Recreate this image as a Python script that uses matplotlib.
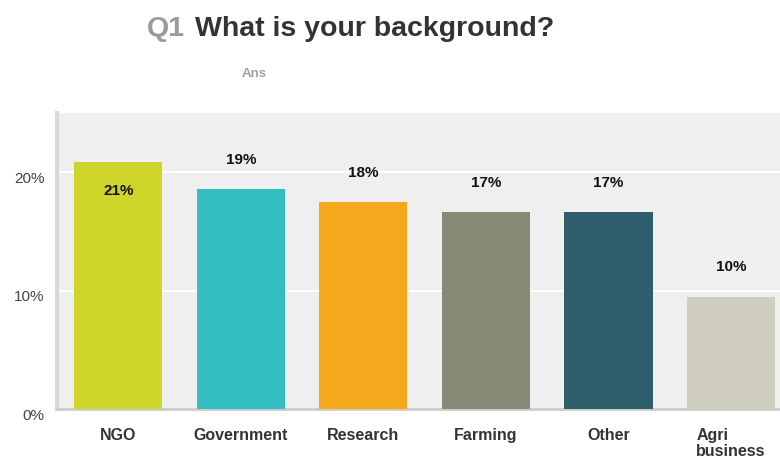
import matplotlib
matplotlib.use('Agg')
import matplotlib.pyplot as plt
import matplotlib.transforms as mtransforms

plt.rcParams['font.family'] = ['Liberation Sans', 'DejaVu Sans']

# ========== data ==========
categories = ['NGO', 'Government', 'Research', 'Farming', 'Other', 'Agri\nbusiness']
values = [20.9, 18.6, 17.5, 16.6, 16.6, 9.5]
value_labels = ['21%', '19%', '18%', '17%', '17%', '10%']
colors = ['#cfd42a', '#33bfc1', '#f5a81c', '#888a78', '#2e5e6b', '#d0cfbf']
y_ticks = [0, 10, 20]
y_tick_labels = ['0%', '10%', '20%']

fig = plt.figure(figsize=(7.8, 4.61), dpi=100)
ax = fig.add_axes([57 / 780, 52 / 461, 723 / 780, 296 / 461])
ax.set_facecolor('#efefef')

x = range(len(categories))
ax.bar(x, values, width=0.72, color=colors, zorder=3)

ax.set_xlim(-0.5, 5.4)
ax.set_ylim(0, 25)
ax.set_yticks(y_ticks)
ax.set_yticklabels(y_tick_labels, fontsize=11, color='#444444')
ax.yaxis.grid(True, color='white', linewidth=1.5, zorder=1)
ax.tick_params(axis='y', length=0, pad=9)
# reference labels sit a little below their gridlines
shift = mtransforms.ScaledTranslation(0, -5 / 100, fig.dpi_scale_trans)
for lab in ax.get_yticklabels():
    lab.set_transform(lab.get_transform() + shift)

ax.set_xticks(list(x))
ax.set_xticklabels(categories, fontsize=11.5, fontweight='bold', color='#333333',
                   multialignment='left', va='top', linespacing=1.05)
ax.tick_params(axis='x', length=0, pad=14)

for s in ['top', 'right']:
    ax.spines[s].set_visible(False)
ax.spines['left'].set_color('#d9d9d9')
ax.spines['left'].set_linewidth(3)
ax.spines['bottom'].set_color('#cccccc')
ax.spines['bottom'].set_linewidth(2)

# value labels: above bar, inside if too close to the top
for i, (v, lab) in enumerate(zip(values, value_labels)):
    if v > 20:
        off = -21
    else:
        off = 21
    ax.annotate(lab, (i, v), xytext=(0, off), textcoords='offset points',
                ha='center', va='center', fontsize=11, fontweight='bold',
                color='#111111', zorder=4)

# title
fig.text(147 / 780, 1 - 29 / 461, 'Q1', fontsize=20.5, fontweight='bold',
         color='#9a9a9a', va='center', ha='left')
fig.text(195 / 780, 1 - 29 / 461, 'What is your background?', fontsize=20.5,
         fontweight='bold', color='#333333', va='center', ha='left')
fig.text(242 / 780, 1 - 74 / 461, 'Ans', fontsize=9.5, fontweight='bold',
         color='#a0a0a0', va='center', ha='left')

plt.savefig('out.png', dpi=100)
plt.close()
